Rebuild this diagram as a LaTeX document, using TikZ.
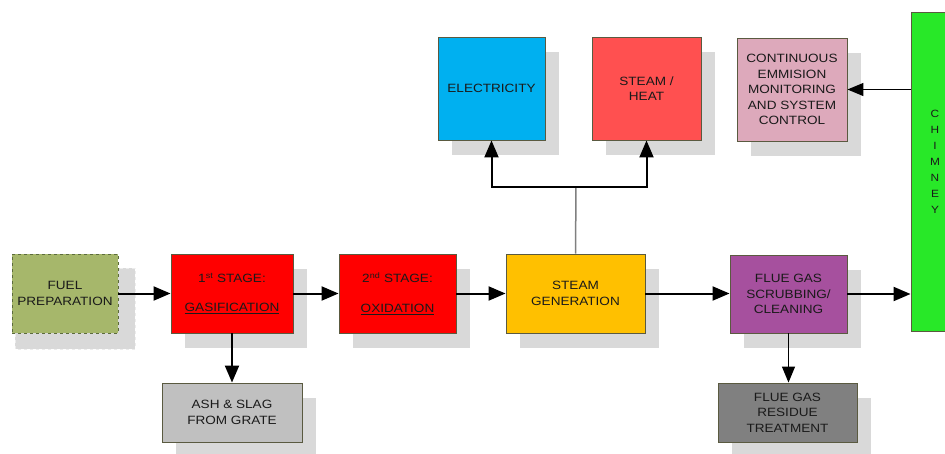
\documentclass[tikz,border=0pt]{standalone}
\usepackage{fontspec}
\setmainfont{Liberation Sans}[FakeStretch=1.13]
\usetikzlibrary{arrows.meta,shadows}
\definecolor{fuelc}{HTML}{A6B76B}
\definecolor{fuelb}{HTML}{5C6B3C}
\definecolor{redc}{HTML}{FF0000}
\definecolor{elecc}{HTML}{00B0F0}
\definecolor{heatc}{HTML}{FF5050}
\definecolor{cemsc}{HTML}{DDA9BB}
\definecolor{scrubc}{HTML}{A6509E}
\definecolor{chimc}{HTML}{28E828}
\definecolor{steamc}{HTML}{FFC000}
\definecolor{ashc}{HTML}{C0C0C0}
\definecolor{resc}{HTML}{808080}
\definecolor{shadc}{HTML}{D9D9D9}
\definecolor{bordc}{HTML}{5A5A40}
\definecolor{txtc}{HTML}{1A1A1A}
\tikzset{
  blk/.style={draw=bordc, line width=0.9pt, rectangle, align=center, text=txtc,
    font=\fontsize{12}{15.5}\selectfont, inner sep=2pt,
    drop shadow={shadow xshift=14pt, shadow yshift=-15pt, fill=shadc, opacity=1}},
  arr/.style={line width=2pt, -{Triangle[length=17pt,width=14pt]}},
  tarr/.style={line width=1.3pt, -{Triangle[length=16pt,width=13pt]}},
}
\begin{document}
\begin{tikzpicture}[x=1pt,y=-1pt]
\useasboundingbox (0,0) rectangle (945,453);
% fuel shadow (dashed)
\fill[shadc] (15,268) rectangle (135,349);
\draw[white!85!gray, dashed, line width=0.8pt] (15,268) rectangle (135,349);
\node[draw=fuelb, dashed, line width=0.9pt, fill=fuelc, minimum width=106pt, minimum height=79pt,
  align=center, text=txtc, font=\fontsize{12}{15.5}\selectfont] (fuel) at (65,293.5) {FUEL\\PREPARATION};
\node[blk, fill=redc, minimum width=122pt, minimum height=79pt] (gas) at (232,293.5)
  {1\textsuperscript{st} STAGE:\\[14pt]\underline{GASIFICATION}};
\node[blk, fill=redc, minimum width=117pt, minimum height=79pt] (oxid) at (397.5,293.5)
  {2\textsuperscript{nd} STAGE:\\[14pt]\underline{OXIDATION}};
\node[blk, fill=steamc, minimum width=139pt, minimum height=79pt] (steam) at (575.5,293.5)
  {STEAM\\GENERATION};
\node[blk, fill=scrubc, minimum width=117pt, minimum height=78pt] (scrub) at (788.5,294)
  {FLUE GAS\\SCRUBBING/\\CLEANING};
\node[blk, fill=ashc, minimum width=140pt, minimum height=59pt] (ash) at (232,412.5)
  {ASH \& SLAG\\FROM GRATE};
\node[blk, fill=resc, minimum width=139pt, minimum height=59pt] (res) at (787.5,412.5)
  {FLUE GAS\\RESIDUE\\TREATMENT};
\node[blk, fill=elecc, minimum width=107pt, minimum height=103pt] (elec) at (491.5,88.5)
  {ELECTRICITY};
\node[blk, fill=heatc, minimum width=109pt, minimum height=103pt] (heat) at (646.5,88.5)
  {STEAM /\\HEAT};
\node[blk, fill=cemsc, minimum width=110pt, minimum height=103pt] (cems) at (792,89.5)
  {CONTINUOUS\\EMMISION\\MONITORING\\AND SYSTEM\\CONTROL};
\node[draw=bordc, line width=0.9pt, fill=chimc, minimum width=44pt, minimum height=319pt] (chim) at (933,171.5) {};
\node[text=txtc, align=center, font=\fontsize{10.5}{16}\selectfont] (chimtxt) at (935,162) {C\\H\\I\\M\\N\\E\\Y};
% connectors
\draw[arr] (fuel.east) -- (gas.west);
\draw[arr] (gas.east) -- (oxid.west);
\draw[arr] (oxid.east) -- (steam.west);
\draw[arr] (steam.east) -- (steam.east -| scrub.west);
\draw[arr] (scrub.east) -- (scrub.east -| chim.west);
\draw[arr] (gas.south) -- (ash.north);
\draw[tarr] (scrub.south) -- (scrub.south |- res.north);
\draw[tarr] (chim.west |- cems.east) -- (cems.east);
\coordinate (split) at (576,187);
\draw[gray, line width=1.5pt] (steam.north) -- (split);
\draw[arr] (split) -| (elec.south);
\draw[arr] (split) -| (heat.south);
\end{tikzpicture}
\end{document}
